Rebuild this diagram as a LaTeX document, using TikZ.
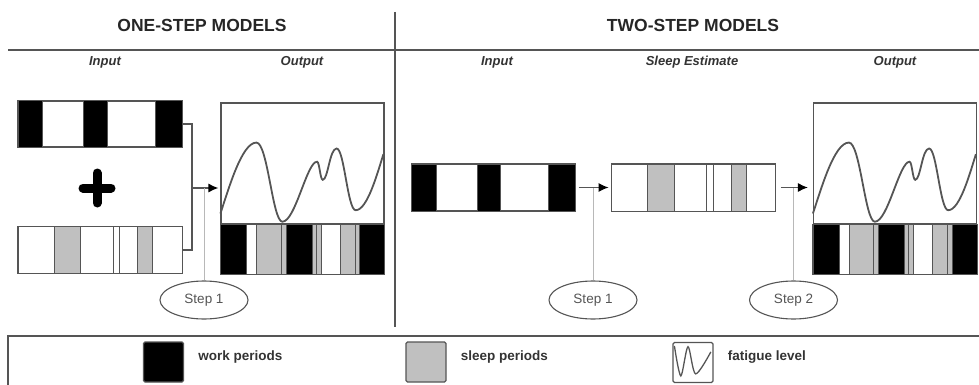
\documentclass[tikz,border=0pt]{standalone}
\usepackage{fontspec}
\setmainfont{Liberation Sans}
\usetikzlibrary{shapes.geometric,arrows.meta,positioning,calc}
\definecolor{edge}{HTML}{555555}
\definecolor{sleepgray}{HTML}{C0C0C0}
\definecolor{guidegray}{HTML}{B8B8B8}

\begin{document}
\begin{tikzpicture}
                [
                    x=1pt, y=-1pt,
                    bar/.style={rectangle, draw=edge, line width=1.2pt, inner sep=0pt, minimum width=163pt, minimum height=46pt},
                    curvebox/.style={rectangle, draw=edge, line width=1.2pt, inner sep=0pt, minimum width=163pt, minimum height=121pt},
                    outbar/.style={rectangle, draw=edge, line width=1.2pt, inner sep=0pt, minimum width=163pt, minimum height=49pt},
                    stepnode/.style={ellipse, draw=edge, line width=1.1pt, fill=white, minimum width=88pt, minimum height=38pt, inner sep=0pt, text=edge, font=\fontsize{13.5}{15}\selectfont},
                    title/.style={font=\fontsize{17.5}{20}\selectfont\bfseries, text=black!85},
                    colhead/.style={font=\fontsize{13}{15}\selectfont\bfseries\itshape, text=black!80},
                    keybox/.style={rectangle, draw=edge, line width=1.2pt, rounded corners=1.5pt, minimum width=40pt, minimum height=40pt, inner sep=0pt},
                    keytext/.style={font=\fontsize{13.5}{15}\selectfont\bfseries, text=black!80, inner sep=0pt},
                    conn/.style={draw=edge, line width=1.2pt},
                    arrowline/.style={conn, -{Latex[length=10pt, width=9pt, color=black]}},
                    guide/.style={draw=guidegray, line width=0.8pt},
                    fatigue/.style={draw=edge, line width=1.8pt},
                    frame/.style={draw=edge, line width=1.5pt}
                ]
                \useasboundingbox (0,0) rectangle (979,385);

                \node [title] (oneTitle) at (202,25) {ONE-STEP MODELS};
                \node [title] (twoTitle) at (693,25) {TWO-STEP MODELS};
                \draw [frame] (8,50) -- (979,50);
                \draw [frame] (395,12) -- (395,327);

                \node [colhead] (hInL) at (105,62) {Input};
                \node [colhead] (hOutL) at (302,62) {Output};
                \node [colhead] (hInR) at (497,62) {Input};
                \node [colhead] (hEstR) at (692,62) {Sleep Estimate};
                \node [colhead] (hOutR) at (895,62) {Output};

                \node [bar] (inWorkL) at (100,124) {};
                \node [bar] (inSleepL) at (100,250) {};
                \node [curvebox] (outL) at (302.5,163.5) {};
                \node [outbar] (outBarL) [below=0pt of outL] {};
                \coordinate (joinL) at (192,188);
                \coordinate (plus) at (97,188);
                \node [stepnode] (stepL) at (204,300) {Step 1};

                \node [bar] (inR) at (493.5,187.5) {};
                \node [bar] (sleepR) [right=36pt of inR] {};
                \node [curvebox] (outR) at (895,163.5) {};
                \node [outbar] (outBarR) [below=0pt of outR] {};
                \node [stepnode] (step1R) at (593,300) {Step 1};
                \node [stepnode] (step2R) at (793.5,300) {Step 2};

                \foreach \n in {inWorkL,inR}
                    \foreach \a/\b in {0/0.15,0.4/0.545,0.835/1}
                        \filldraw [fill=black, draw=edge, line width=1pt] ($(\n.south west)!\a!(\n.south east)$) rectangle ($(\n.north west)!\b!(\n.north east)$);
                \foreach \n in {inSleepL,sleepR}
                    \foreach \a/\b/\c in {0/0.22/white,0.22/0.38/sleepgray,0.38/0.58/white,0.58/0.62/white,0.62/0.73/white,0.73/0.82/sleepgray,0.82/1/white}
                        \filldraw [fill=\c, draw=edge, line width=1pt] ($(\n.south west)!\a!(\n.south east)$) rectangle ($(\n.north west)!\b!(\n.north east)$);
                \foreach \n in {outBarL,outBarR}
                    \foreach \a/\b/\c in {0/0.16/black,0.16/0.22/white,0.22/0.37/sleepgray,0.37/0.40/sleepgray,0.40/0.56/black,0.56/0.585/sleepgray,0.585/0.615/sleepgray,0.615/0.73/white,0.73/0.82/sleepgray,0.82/0.85/sleepgray,0.85/1/black}
                        \filldraw [fill=\c, draw=edge, line width=1pt] ($(\n.south west)!\a!(\n.south east)$) rectangle ($(\n.north west)!\b!(\n.north east)$);
                \foreach \n in {inWorkL,inSleepL,inR,sleepR,outBarL,outBarR}
                    \draw [edge, line width=1.2pt] (\n.south west) rectangle (\n.north east);

                \foreach \n in {outL,outR}
                    \draw [fatigue, shift={(\n.north west)}, x=163pt, y=-121pt] (0,0.918)
                        .. controls (0.05,0.72) and (0.13,0.332) .. (0.221,0.332)
                        .. controls (0.29,0.332) and (0.32,0.986) .. (0.38,0.986)
                        .. controls (0.46,0.986) and (0.53,0.49) .. (0.593,0.49)
                        .. controls (0.608,0.49) and (0.612,0.64) .. (0.628,0.64)
                        .. controls (0.66,0.64) and (0.67,0.381) .. (0.713,0.381)
                        .. controls (0.76,0.381) and (0.78,0.891) .. (0.83,0.891)
                        .. controls (0.9,0.891) and (0.96,0.6) .. (1.0,0.428);

                \draw [line width=9pt, line cap=round] ($(plus)+(-14,0)$) -- ($(plus)+(14,0)$) ($(plus)+(0,-15)$) -- ($(plus)+(0,15)$);

                \draw [conn] (inWorkL.east) -| (joinL);
                \draw [conn] (inSleepL.east) -| (joinL);
                \draw [arrowline, shorten >=2pt] (joinL) -- (joinL -| outL.west);
                \draw [guide] (stepL.north) -- (stepL.north |- joinL);

                \draw [arrowline, shorten <=3pt, shorten >=3pt] (inR) -- (sleepR);
                \draw [arrowline, shorten <=5pt, shorten >=5pt] (sleepR.east) -- (sleepR.east -| outR.west);
                \draw [guide] (step1R.north) -- (step1R.north |- inR.east);
                \draw [guide] (step2R.north) -- (step2R.north |- sleepR.east);

                \draw [frame] (979,336) -- (8,336) -- (8,385);
                \node [keybox, fill=black] (keyWork) at (163.5,362) {};
                \node [keytext, right=14pt of keyWork, yshift=5pt] (txtWork) {work periods};
                \node [keybox, fill=sleepgray] (keySleep) at (426,362) {};
                \node [keytext, right=14pt of keySleep, yshift=5pt] (txtSleep) {sleep periods};
                \node [keybox, fill=white] (keyFatigue) at (693,362.5) {};
                \draw [edge, line width=1.3pt, shift={(keyFatigue.north west)}, x=40pt, y=-40pt] plot [smooth, tension=0.5] coordinates {(0.05,0.1) (0.21,0.85) (0.39,0.12) (0.58,0.8) (0.96,0.25)};
                \node [keytext, right=14pt of keyFatigue, yshift=5pt] (txtFatigue) {fatigue level};

            \end{tikzpicture}
\end{document}
